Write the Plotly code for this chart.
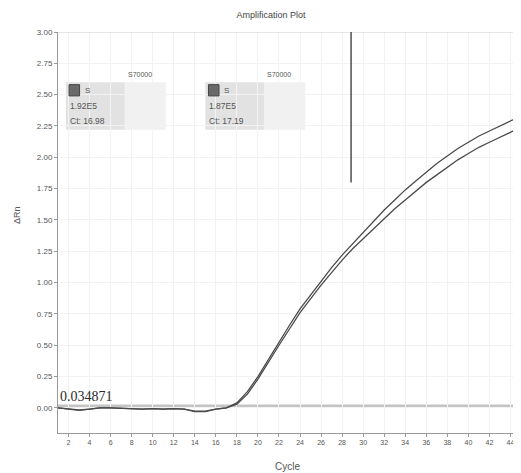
import plotly.graph_objects as go

# ---------------- data ----------------
cycles = list(range(1, 46))
well_upper = [0.00, -0.01, -0.02, -0.01, 0.00, 0.00, -0.005, -0.01, -0.01, -0.005,
              -0.01, -0.005, -0.01, -0.03, -0.03, -0.01, 0.00, 0.04, 0.13, 0.25,
              0.39, 0.52, 0.66, 0.79, 0.90, 1.01, 1.12, 1.22, 1.31, 1.40,
              1.49, 1.58, 1.66, 1.74, 1.81, 1.88, 1.95, 2.01, 2.07, 2.12,
              2.17, 2.21, 2.25, 2.29, 2.33]
well_lower = [0.00, -0.01, -0.015, -0.01, 0.00, 0.00, -0.005, -0.01, -0.01, -0.005,
              -0.01, -0.005, -0.01, -0.025, -0.025, -0.01, 0.00, 0.03, 0.11, 0.23,
              0.37, 0.50, 0.63, 0.76, 0.87, 0.98, 1.08, 1.18, 1.27, 1.35,
              1.43, 1.51, 1.59, 1.66, 1.73, 1.80, 1.86, 1.92, 1.98, 2.03,
              2.08, 2.12, 2.16, 2.20, 2.24]
threshold = 0.034871
x_ticks = list(range(2, 46, 2))
y_ticks = [0.00, 0.25, 0.50, 0.75, 1.00, 1.25, 1.50, 1.75, 2.00, 2.25, 2.50, 2.75, 3.00]
y_tick_labels = [f"{v:.2f}" for v in y_ticks]

box_headers = ["S70000", "S70000"]
box_names = ["S", "S"]
box_quantities = ["1.92E5", "1.87E5"]
box_ct = ["Ct: 16.98", "Ct: 17.19"]
box_x = [1.75, 15.0]          # left edge of each info box (cycle)
marker_cycle = 28.85           # vertical marker line

FONT = "Liberation Sans, Arial, sans-serif"
TXT = "#555555"

fig = go.Figure()
fig.add_trace(go.Scatter(x=cycles, y=well_upper, mode="lines",
                         line=dict(color="#4a4a4a", width=1.3), showlegend=False))
fig.add_trace(go.Scatter(x=cycles, y=well_lower, mode="lines",
                         line=dict(color="#4a4a4a", width=1.3), showlegend=False))

shapes = []
# threshold line
shapes.append(dict(type="line", xref="x", yref="y", x0=1, x1=45, y0=threshold - 0.02,
                   y1=threshold - 0.02, line=dict(color="#c4c4c4", width=3), layer="below"))
# top border
shapes.append(dict(type="line", xref="x", yref="y", x0=1, x1=45, y0=3.0, y1=3.0,
                   line=dict(color="#cfcfcf", width=1)))
# vertical marker
shapes.append(dict(type="line", xref="x", yref="y", x0=marker_cycle, x1=marker_cycle,
                   y0=3.0, y1=1.80, line=dict(color="#333333", width=1.3)))

annotations = []
for i in range(2):
    bx = box_x[i]
    shapes.append(dict(type="rect", xref="x", yref="y", x0=bx, x1=bx + 5.6, y0=2.22, y1=2.60,
                       fillcolor="#e2e2e2", line=dict(width=0), layer="below"))
    shapes.append(dict(type="rect", xref="x", yref="y", x0=bx + 5.6, x1=bx + 9.5, y0=2.22, y1=2.60,
                       fillcolor="#f1f1f1", line=dict(width=0), layer="below"))
    shapes.append(dict(type="rect", xref="x", yref="y", x0=bx + 0.3, x1=bx + 1.3, y0=2.49, y1=2.58,
                       fillcolor="#6a6a6a", line=dict(color="#444444", width=1)))
    annotations.append(dict(x=bx + 7.0, y=2.66, xref="x", yref="y", text=box_headers[i],
                            showarrow=False, font=dict(size=7, color=TXT, family=FONT)))
    annotations.append(dict(x=bx + 1.6, y=2.535, xref="x", yref="y", text=box_names[i],
                            xanchor="left", showarrow=False, font=dict(size=8, color=TXT, family=FONT)))
    annotations.append(dict(x=bx + 0.2, y=2.41, xref="x", yref="y", text=box_quantities[i],
                            xanchor="left", showarrow=False, font=dict(size=8.5, color=TXT, family=FONT)))
    annotations.append(dict(x=bx + 0.2, y=2.29, xref="x", yref="y", text=box_ct[i],
                            xanchor="left", showarrow=False, font=dict(size=8.5, color=TXT, family=FONT)))

annotations.append(dict(x=1.0, y=threshold - 0.02, xref="x", yref="y", text="0.034871",
                        xanchor="left", yanchor="bottom", showarrow=False,
                        font=dict(size=14, color="#2a2a2a", family="Liberation Serif, serif")))

# page body has an 8px default margin: figure is offset by (8, 8) on screen
OFF = 8
W, H = 521, 473
L, R, T, B = 58 - OFF, OFF, 32 - OFF, 473 - 433 + OFF
pw, ph = W - L - R, H - T - B

def paper_xy(sx, sy):
    fx, fy = sx - OFF, sy - OFF
    return (fx - L) / pw, 1 - (fy - T) / ph

ax_y = paper_xy(17, 215)
ax_x = paper_xy(287, 466)
annotations.append(dict(x=ax_y[0], y=ax_y[1], xref="paper", yref="paper", text="ΔRn", textangle=-90,
                        xanchor="center", yanchor="middle",
                        showarrow=False, font=dict(size=9, color=TXT, family=FONT)))
annotations.append(dict(x=ax_x[0], y=ax_x[1], xref="paper", yref="paper", text="Cycle",
                        xanchor="center", yanchor="middle",
                        showarrow=False, font=dict(size=10, color=TXT, family=FONT)))

fig.update_layout(
    width=W, height=H,
    margin=dict(l=L, r=R, t=T, b=B, autoexpand=False),
    paper_bgcolor="white", plot_bgcolor="white",
    title=dict(text="Amplification Plot", x=(271 - OFF) / W, xanchor="center",
               y=1 - (15 - OFF) / H, yanchor="middle",
               font=dict(size=9, color="#444444", family=FONT)),
    xaxis=dict(range=[1, 45], tickvals=x_ticks, ticks="outside", ticklen=3, tickcolor="#999",
               showline=True, linecolor="#999999", linewidth=1, automargin=False,
               showgrid=True, gridcolor="#f2f2f2", zeroline=False,
               tickfont=dict(size=7, color=TXT, family=FONT)),
    yaxis=dict(range=[-0.2, 3.0], tickvals=y_ticks, ticktext=y_tick_labels, ticks="outside",
               ticklen=3, tickcolor="#999", automargin=False,
               showline=True, linecolor="#999999", linewidth=1,
               showgrid=True, gridcolor="#f2f2f2", zeroline=False,
               tickfont=dict(size=8, color=TXT, family=FONT)),
    shapes=shapes, annotations=annotations,
)

fig.write_html("out.html")
